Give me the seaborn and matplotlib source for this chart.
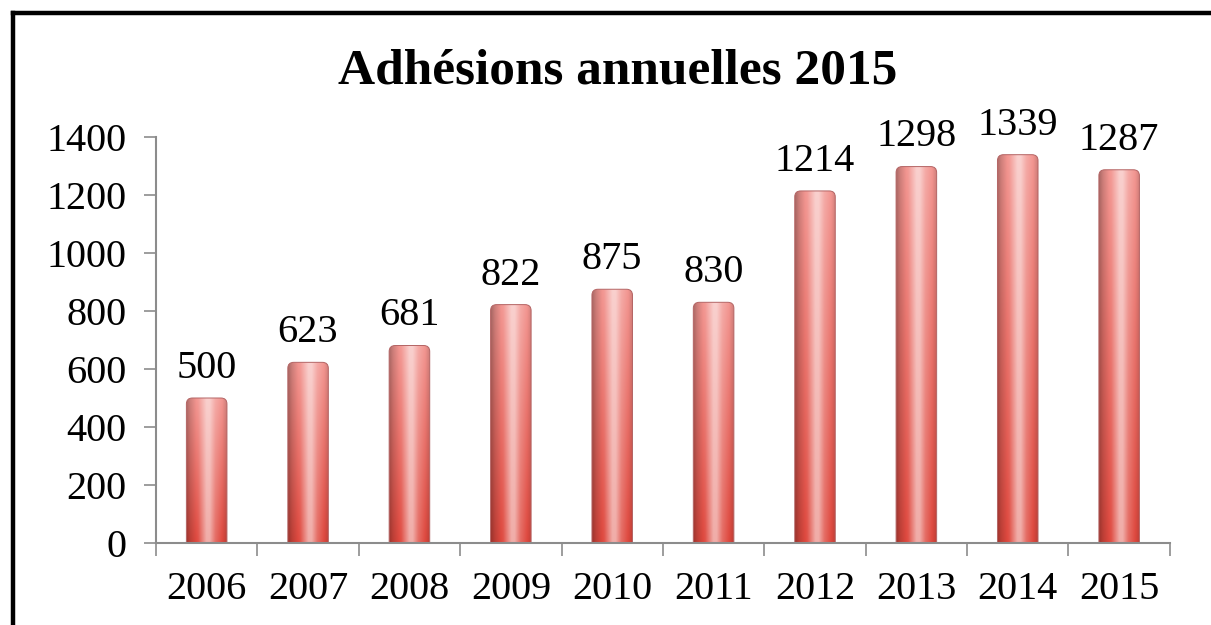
import numpy as np
import pandas as pd
import matplotlib
matplotlib.use("Agg")
import matplotlib.pyplot as plt
import seaborn as sns
from matplotlib.lines import Line2D
from matplotlib.patches import FancyBboxPatch

years = ["2006", "2007", "2008", "2009", "2010", "2011", "2012", "2013", "2014", "2015"]
adhesions = [500, 623, 681, 822, 875, 830, 1214, 1298, 1339, 1287]
yticks = [0, 200, 400, 600, 800, 1000, 1200, 1400]
title = "Adhésions annuelles 2015"

sns.set_theme(style="white")
plt.rcParams['font.family'] = ['Liberation Serif', 'DejaVu Serif']

df = pd.DataFrame({"year": years, "value": adhesions})

fig = plt.figure(figsize=(12.11, 6.25), dpi=100)
ax = fig.add_axes([0.1288, 0.1312, 0.8372, 0.6496])
sns.barplot(data=df, x="year", y="value", ax=ax, width=0.4, color="#e06060",
            edgecolor="none", saturation=1)

ax.set_xlim(-0.5, len(years) - 0.5)
ax.set_ylim(0, 1400)

# cylinder-like gradient
nx, ny = 200, 200
xs = np.linspace(0, 1, nx)
prof_x = [0.0, 0.1, 0.3, 0.5, 0.58, 0.72, 0.9, 1.0]
prof_s = [-0.3, -0.15, 0.05, 0.55, 0.55, 0.2, -0.02, -0.15]
s = np.interp(xs, prof_x, prof_s)
top = np.array([242, 150, 145]) / 255
bot = np.array([222, 72, 62]) / 255

# data units per pixel, for rounded tops
bbox = ax.get_window_extent()
ux = (len(years)) / bbox.width
uy = 1400 / bbox.height
for p in list(ax.patches):
    x0, w, h = p.get_x(), p.get_width(), p.get_height()
    frac = np.linspace(0, 1, ny)[:, None, None]
    base = top[None, None, :] * (1 - frac) + bot[None, None, :] * frac
    base = np.broadcast_to(base, (ny, nx, 3))
    ss = s[None, :, None]
    img = np.where(ss < 0, base * (1 + ss), base + (1 - base) * ss)
    img = np.clip(img, 0, 1)
    pad = 60
    cyl = FancyBboxPatch((x0, -pad), w, h + pad,
                         boxstyle=f"round,pad=0,rounding_size={6 * ux}",
                         mutation_aspect=uy / ux, facecolor="none",
                         edgecolor="#b46464", linewidth=0.7, zorder=3)
    ax.add_patch(cyl)
    im = ax.imshow(img, extent=[x0, x0 + w, 0, h], aspect='auto', zorder=2,
                   interpolation='bilinear')
    im.set_clip_path(cyl)
    p.set_alpha(0)

ax.set_xlim(-0.5, len(years) - 0.5)
ax.set_ylim(0, 1400)
ax.set_yticks(yticks)
ax.set_yticklabels([str(v) for v in yticks])
ax.set_xlabel("")
ax.set_ylabel("")

for i, v in enumerate(adhesions):
    ax.annotate(str(v), (i, v), xytext=(0, 8), textcoords="offset points",
                ha="center", va="bottom", fontsize=29, color="black")

for sp in ["top", "right"]:
    ax.spines[sp].set_visible(False)
for sp in ["left", "bottom"]:
    ax.spines[sp].set_color("#8c8c8c")
    ax.spines[sp].set_linewidth(1.5)
    ax.spines[sp].set_zorder(4)

# x ticks between categories
ax.set_xticks(np.arange(len(years)), labels=years)
ax.set_xticks(np.arange(-0.5, len(years)), minor=True)
ax.tick_params(axis="x", which="major", length=0, labelsize=29, pad=20, colors="black")
ax.tick_params(axis="x", which="minor", bottom=True, length=9, width=1.2,
               color="#8c8c8c", direction="out")
ax.tick_params(axis="y", which="major", length=9, width=1.2, color="#8c8c8c",
               direction="out", labelsize=29, pad=12, labelcolor="black", left=True)

fig.text(0.51, 0.885, title, ha="center", va="center", fontsize=37, fontweight="bold",
         color="black")

# partial black frame (left and top)
fig.add_artist(Line2D([13 / 1211, 13 / 1211], [0, 1 - 13 / 625], transform=fig.transFigure,
                      color="black", linewidth=3.2, solid_capstyle="projecting"))
fig.add_artist(Line2D([13 / 1211, 1], [1 - 13 / 625, 1 - 13 / 625], transform=fig.transFigure,
                      color="black", linewidth=3.2, solid_capstyle="projecting"))

fig.savefig("out.png", dpi=100, facecolor="white")
